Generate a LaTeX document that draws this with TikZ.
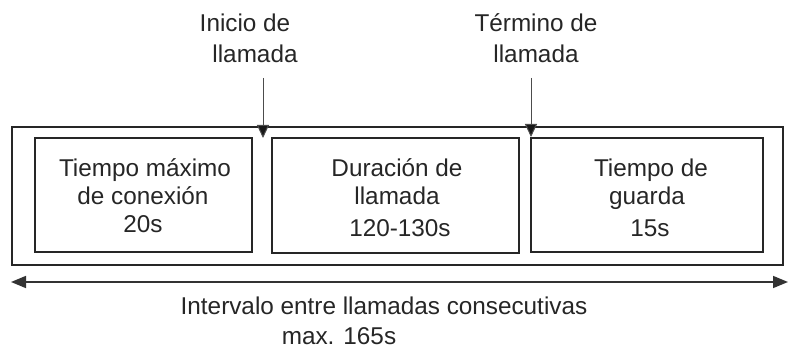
\documentclass[tikz,border=0pt]{standalone}
\usepackage{fontspec}
\setmainfont{Liberation Sans}
\usetikzlibrary{arrows.meta}
\begin{document}
\begin{tikzpicture}[x=1pt,y=-1pt,
  lbl/.style={anchor=base,inner sep=0pt,font=\fontsize{24.3}{28}\selectfont,text=black!85},
  frame/.style={draw=black!85,line width=2.2pt},
  inbox/.style={draw=black!85,line width=2pt},
  marker/.style={draw=black!70,line width=1pt,-{Triangle[length=13pt,width=12pt,fill=black!90]}},
  span/.style={draw=black!80,line width=1.6pt,{Triangle[length=15pt,width=12pt]}-{Triangle[length=15pt,width=12pt]}}]
\useasboundingbox (0,0) rectangle (788,352);
\fill[white] (0,0) rectangle (788,352);
% outer frame and boxes
\draw[frame] (12,127) rectangle (783,265);
\draw[inbox] (35,138) rectangle (252,252);
\draw[inbox] (272,138) rectangle (519,253);
\draw[inbox] (531,138) rectangle (763,252);
% box texts
\node[lbl] (b1a) at (145,177) {Tiempo máximo};
\node[lbl] (b1b) at (143,205) {de conexión};
\node[lbl] (b1c) at (143,233) {20s};
\node[lbl] (b2a) at (397,177) {Duración de};
\node[lbl] (b2b) at (397,205) {llamada};
\node[lbl] (b2c) at (400,237) {120-130s};
\node[lbl] (b3a) at (651,177) {Tiempo de};
\node[lbl] (b3b) at (647,205) {guarda};
\node[lbl] (b3c) at (650,237) {15s};
% top labels
\node[lbl] (ia) at (245,32) {Inicio de};
\node[lbl] (ib) at (255,63) {llamada};
\node[lbl] (ta) at (536,32) {Término de};
\node[lbl] (tb) at (536,63) {llamada};
\coordinate (is) at (263,78);
\coordinate (ie) at (263,138);
\coordinate (ts) at (531,78);
\coordinate (te) at (531,137);
\draw[marker] (is) -- (ie);
\draw[marker] (ts) -- (te);
% bottom span
\coordinate (sl) at (11,282);
\coordinate (sr) at (788,282);
\draw[span] (sl) -- (sr);
\node[lbl] (ia1) at (384,315) {Intervalo entre llamadas consecutivas};
\node[lbl] (ia2) at (339,345) {max. 165s};
\end{tikzpicture}
\end{document}
